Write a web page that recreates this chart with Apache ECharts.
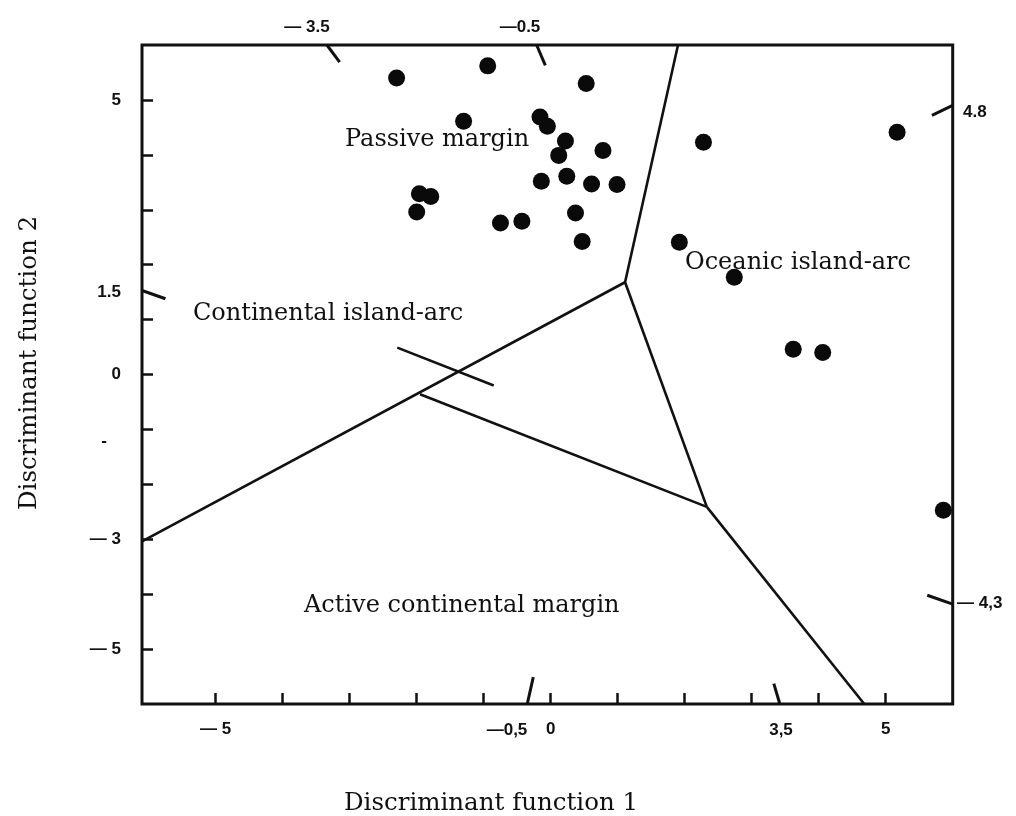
<!DOCTYPE html>
<html>
<head>
<meta charset="utf-8">
<script src="https://cdn.jsdelivr.net/npm/echarts@6/dist/echarts.min.js"></script>
<style>
  html, body { margin: 0; padding: 0; background: #fff; }
  #chart { width: 1016px; height: 816px; }
</style>
</head>
<body>
<div id="chart"></div>
<script>
// Sample scores on discriminant functions 1 and 2: [DF1, DF2]
const passiveMargin = [
  [-2.30, 5.40], [-0.94, 5.62], [0.53, 5.30], [-1.30, 4.61], [-0.16, 4.69],
  [-0.05, 4.52], [0.22, 4.25], [0.12, 3.99], [0.78, 4.08], [-0.14, 3.52],
  [0.24, 3.61], [0.61, 3.47], [0.99, 3.46], [-1.96, 3.29], [-1.79, 3.24],
  [-2.00, 2.96], [-0.75, 2.76], [-0.43, 2.79], [0.37, 2.94], [0.47, 2.42]
];
const oceanicIslandArc = [
  [2.28, 4.23], [1.92, 2.41], [2.74, 1.77], [5.17, 4.41],
  [3.62, 0.46], [4.06, 0.40], [5.86, -2.47]
];

// Field boundaries, each as [start, end]
const fieldBoundaries = [
  [[1.90, 6.00], [1.11, 1.68]],
  [[1.11, 1.68], [-6.10, -3.04]],
  [[1.11, 1.68], [2.33, -2.41]],
  [[2.33, -2.41], [4.68, -6.00]],
  [[2.33, -2.41], [-1.95, -0.36]],
  [[-2.29, 0.49], [-0.85, -0.20]]
];

// Short oblique reference marks on the frame
const frameMarks = [
  [[-3.34, 6.00], [-3.15, 5.69]],
  [[-0.21, 6.00], [-0.08, 5.63]],
  [[-0.35, -6.00], [-0.26, -5.51]],
  [[3.42, -6.00], [3.33, -5.63]],
  [[-6.10, 1.53], [-5.75, 1.38]],
  [[6.00, 4.90], [5.69, 4.72]],
  [[6.00, -4.18], [5.62, -4.02]]
];
const frameMarkLabels = ['— 3.5', '—0.5', '—0,5', '3,5', '4.8', '— 4,3'];

// Regular ticks and labelled values
const xTickValues = [-5, -4, -3, -2, -1, 0, 1, 2, 3, 4, 5];
const yTickValues = [-5, -4, -3, -2, -1, 0, 1, 2, 3, 4, 5];
const xLabelValues = [-5, 0, 5];
const yLabelValues = [5, 1.5, 0, -3, -5];

const fieldNames = ['Passive margin', 'Continental island-arc', 'Oceanic island-arc', 'Active continental margin'];
const axisTitles = ['Discriminant function 1', 'Discriminant function 2'];

const serif = '"DejaVu Serif", "Liberation Serif", serif';
const sans = '"Liberation Sans", Arial, sans-serif';

function tickText(v) {
  return v < 0 ? '— ' + Math.abs(v) : String(v);
}

function txt(text, x, y, opts) {
  opts = opts || {};
  const align = opts.align || 'left';
  return {
    type: 'text',
    x: x, y: y,
    rotation: opts.rotation || 0,
    silent: true,
    z: 100,
    style: {
      text: text,
      x: 0, y: 0,
      fontFamily: opts.family || serif,
      fontSize: opts.size || 24,
      fontWeight: opts.weight || 'normal',
      fill: '#111',
      align: align, textAlign: align,
      verticalAlign: 'middle', textVerticalAlign: 'middle'
    }
  };
}

const chart = echarts.init(document.getElementById('chart'), null, { renderer: 'canvas' });

const axisTickStyle = { show: true, inside: true, length: 11, lineStyle: { color: '#111', width: 2.5 } };
const tickFont = { color: '#111', fontFamily: sans, fontWeight: 'bold', fontSize: 17 };

chart.setOption({
  animation: false,
  backgroundColor: '#fff',
  grid: {
    left: 142, top: 45, width: 810.7, height: 659,
    show: true, borderColor: '#111', borderWidth: 3, backgroundColor: 'transparent'
  },
  xAxis: {
    type: 'value', min: -6.1, max: 6,
    axisLine: { show: false, onZero: false },
    splitLine: { show: false },
    axisTick: Object.assign({ customValues: xTickValues }, axisTickStyle),
    axisLabel: Object.assign({ customValues: xLabelValues, margin: 17, formatter: tickText }, tickFont)
  },
  yAxis: {
    type: 'value', min: -6, max: 6,
    axisLine: { show: false, onZero: false },
    splitLine: { show: false },
    axisTick: Object.assign({ customValues: yTickValues }, axisTickStyle),
    axisLabel: Object.assign({ customValues: yLabelValues, margin: 21, formatter: tickText }, tickFont)
  },
  series: [
    {
      name: 'Field boundaries',
      type: 'lines',
      coordinateSystem: 'cartesian2d',
      polyline: false,
      lineStyle: { color: '#111', width: 2.6, opacity: 1 },
      data: fieldBoundaries.map(c => ({ coords: c })),
      z: 3
    },
    {
      name: 'Frame marks',
      type: 'lines',
      coordinateSystem: 'cartesian2d',
      polyline: false,
      lineStyle: { color: '#111', width: 3, opacity: 1 },
      data: frameMarks.map(c => ({ coords: c })),
      z: 3
    },
    {
      name: 'Passive margin',
      type: 'scatter',
      symbol: 'circle', symbolSize: 17,
      itemStyle: { color: '#0a0a0a', opacity: 1 },
      data: passiveMargin,
      z: 4
    },
    {
      name: 'Oceanic island-arc',
      type: 'scatter',
      symbol: 'circle', symbolSize: 17,
      itemStyle: { color: '#0a0a0a', opacity: 1 },
      data: oceanicIslandArc,
      clip: false,
      z: 4
    }
  ],
  graphic: [
    // field names
    txt(fieldNames[0], 345, 140),
    txt(fieldNames[1], 193, 314),
    txt(fieldNames[2], 685, 263),
    txt(fieldNames[3], 304, 606),
    // axis titles
    txt(axisTitles[0], 491, 804, { align: 'center', size: 24.5 }),
    txt(axisTitles[1], 30, 363, { align: 'center', size: 24.5, rotation: Math.PI / 2 }),
    // labels of the oblique frame marks
    txt(frameMarkLabels[0], 307, 27, { align: 'center', family: sans, weight: 'bold', size: 17 }),
    txt(frameMarkLabels[1], 520, 27, { align: 'center', family: sans, weight: 'bold', size: 17 }),
    txt(frameMarkLabels[2], 507, 730, { align: 'center', family: sans, weight: 'bold', size: 17 }),
    txt(frameMarkLabels[3], 781, 730, { align: 'center', family: sans, weight: 'bold', size: 17 }),
    txt(frameMarkLabels[4], 963, 112, { family: sans, weight: 'bold', size: 17 }),
    txt(frameMarkLabels[5], 957, 603, { family: sans, weight: 'bold', size: 17 }),
    txt('-', 104, 441, { align: 'center', family: sans, weight: 'bold', size: 17 })
  ]
});
</script>
</body>
</html>
